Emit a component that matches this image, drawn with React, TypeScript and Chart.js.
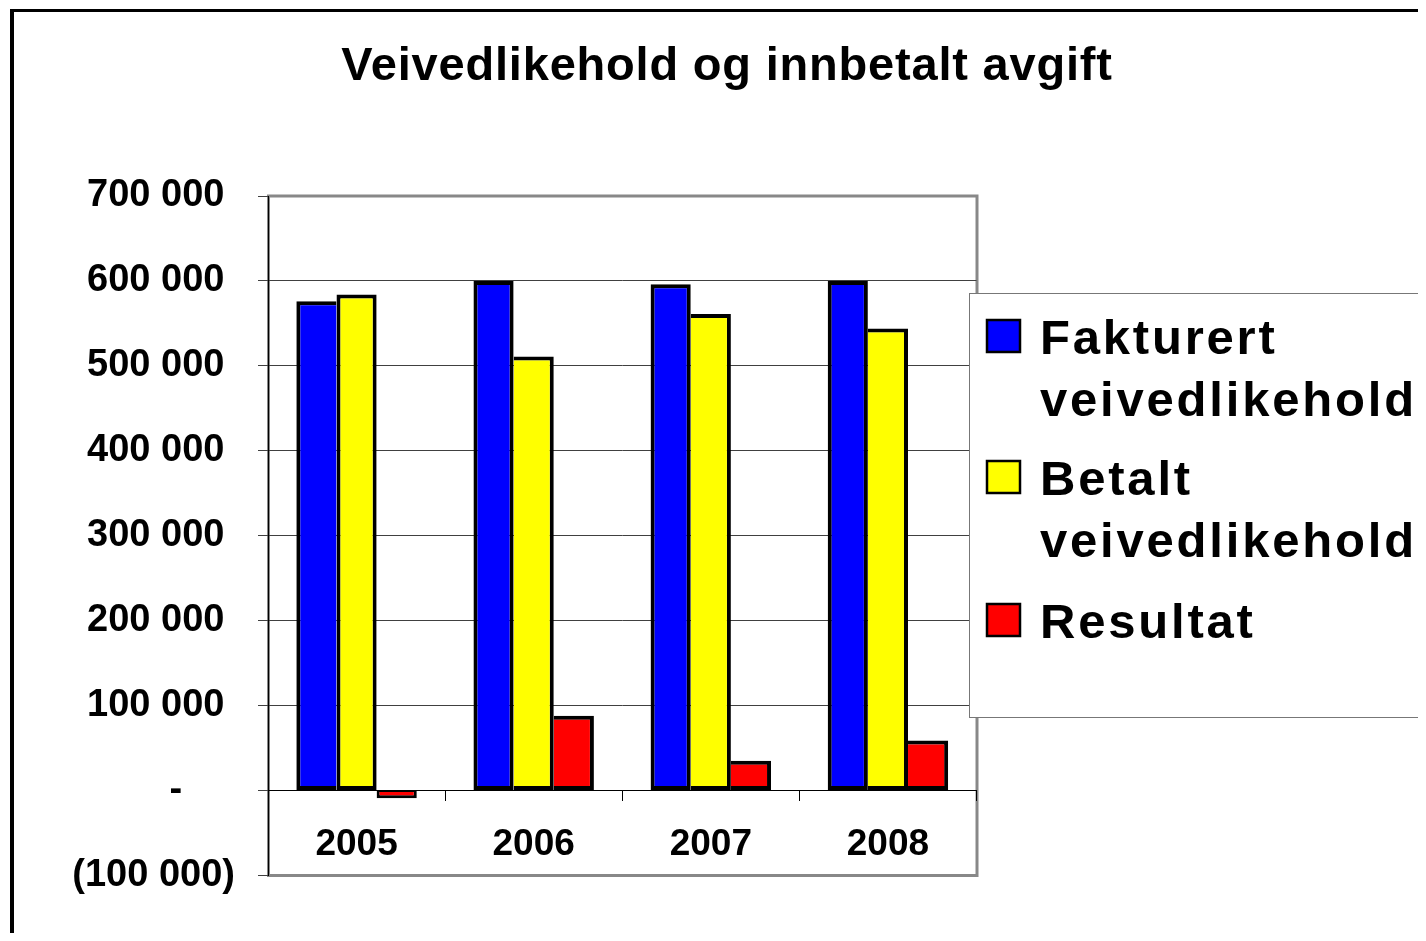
import React, { useEffect, useRef } from "react";
import { Chart, registerables } from "chart.js";

Chart.register(...registerables);

const title = "Veivedlikehold og innbetalt avgift";
const categories = ["2005", "2006", "2007", "2008"];
const seriesNames = [
  ["Fakturert", "veivedlikehold"],
  ["Betalt", "veivedlikehold"],
  ["Resultat"],
];
const fakturert = [576000, 600000, 596000, 600000];
const betalt = [584000, 511000, 561000, 544000];
const resultat = [-9000, 88000, 35000, 59000];
const seriesColors = ["#0000FF", "#FFFF00", "#FF0000"];
const yMin = -100000;
const yMax = 700000;
const yStep = 100000;

const FONT = '"Liberation Sans", Arial, sans-serif';
const W = 1440;
const H = 960;
const BW = 4;

function fmt(v: number): string {
  if (v === 0) return "-     ";
  const abs = Math.abs(v)
    .toFixed(0)
    .replace(/\B(?=(\d{3})+(?!\d))/g, " ");
  return v < 0 ? "(" + abs + ")" : abs + " ";
}

function sameSign(a: number, b: number) {
  return (a >= 0 && b >= 0) || (a < 0 && b < 0);
}

const decorPlugin = {
  id: "decor",
  beforeDraw(chart: any) {
    const ctx = chart.ctx;
    const a = chart.chartArea;
    ctx.save();
    // outer frame
    ctx.fillStyle = "#000";
    ctx.fillRect(2, 1, W, 3);
    ctx.fillRect(2, 1, 4, H);
    // plot area border
    ctx.strokeStyle = "#888888";
    ctx.lineWidth = 3;
    ctx.strokeRect(a.left + 0.5, a.top, a.right - a.left, a.bottom - a.top);
    ctx.restore();
  },
  afterDraw(chart: any) {
    const ctx = chart.ctx;
    ctx.save();
    // title
    ctx.fillStyle = "#000";
    ctx.font = "bold 47px " + FONT;
    (ctx as any).letterSpacing = "0.8px";
    ctx.textAlign = "center";
    ctx.textBaseline = "alphabetic";
    ctx.fillText(title, 719, 72);

    // legend
    (ctx as any).letterSpacing = "0px";
    ctx.fillStyle = "#fff";
    ctx.fillRect(961, 285, W, 424);
    ctx.strokeStyle = "#777";
    ctx.lineWidth = 1;
    ctx.strokeRect(961.5, 285.5, W, 424);
    const baselines = [346, 487, 630];
    ctx.font = "bold 49px " + FONT;
    (ctx as any).letterSpacing = "2.8px";
    ctx.textAlign = "left";
    chart.data.datasets.forEach((ds: any, i: number) => {
      const b = baselines[i];
      ctx.fillStyle = ds.backgroundColor;
      ctx.fillRect(978, b - 35, 35, 34);
      ctx.strokeStyle = "#000";
      ctx.lineWidth = 2.5;
      ctx.strokeRect(979, b - 34, 33, 32);
      ctx.fillStyle = "#000";
      const lines = seriesNames[i];
      lines.forEach((ln, k) => ctx.fillText(ln, 1032, b + k * 62));
    });
    ctx.restore();
  },
};

export default function App() {
  const ref = useRef<HTMLCanvasElement>(null);
  useEffect(() => {
    document.documentElement.style.overflow = "hidden";
    document.body.style.overflow = "hidden";
    if (!ref.current) return;
    const all = [fakturert, betalt, resultat];
    const bw = (c: any) => {
      const d = c.datasetIndex;
      const i = c.dataIndex;
      const v = all[d][i];
      let left = BW;
      let right = BW;
      if (d > 0) {
        const p = all[d - 1][i];
        if (sameSign(p, v) && Math.abs(p) >= Math.abs(v)) left = 0;
      }
      if (d < all.length - 1) {
        const n = all[d + 1][i];
        if (sameSign(n, v) && Math.abs(n) > Math.abs(v)) right = 0;
      }
      const top = v < 0 ? 1 : BW;
      const bottom = v < 0 ? 3 : BW;
      return { top, bottom, left: v < 0 ? 3 : left, right: v < 0 ? 3 : right };
    };
    const chart = new Chart(ref.current, {
      type: "bar",
      data: {
        labels: categories,
        datasets: all.map((data, i) => ({
          label: seriesNames[i].join(" "),
          data,
          backgroundColor: seriesColors[i],
          borderColor: "#000",
          borderWidth: bw as any,
          borderSkipped: false,
          categoryPercentage: 0.68,
          barPercentage: 1,
        })),
      },
      options: {
        responsive: false,
        animation: false,
        devicePixelRatio: 1,
        layout: { padding: { left: 0, top: 188, right: 471.5, bottom: 92.5 } },
        plugins: {
          legend: { display: false },
          title: { display: false },
          tooltip: { enabled: false },
        },
        scales: {
          x: {
            type: "category",
            position: { y: 0 } as any,
            offset: true,
            grid: {
              display: true,
              offset: true,
              drawOnChartArea: false,
              drawTicks: true,
              tickLength: 10,
              color: "#000",
              lineWidth: 1,
            },
            border: { display: true, color: "#000", width: 1 },
            ticks: {
              color: "#000",
              font: { family: FONT, size: 37, weight: "bold" },
              padding: 22,
              maxRotation: 0,
              autoSkip: false,
            },
          },
          y: {
            min: yMin,
            max: yMax,
            afterFit: (s: any) => {
              s.width = 260;
            },
            grid: {
              color: (c: any) => {
                const v = c.tick?.value;
                if (v === 0) return "#000";
                if (v === yMin || v === yMax) return "rgba(0,0,0,0)";
                return "#404040";
              },
              tickColor: "#404040",
              tickLength: 10,
              lineWidth: 1,
            },
            border: { display: true, color: "#000", width: 1 },
            ticks: {
              stepSize: yStep,
              color: "#000",
              font: { family: FONT, size: 38, weight: "bold" },
              padding: 23,
              callback: (v: any) => fmt(Number(v)),
            },
          },
        },
      },
      plugins: [decorPlugin],
    });
    return () => chart.destroy();
  }, []);
  return (
    <div style={{ width: W, height: 925, overflow: "hidden" }}>
      <canvas ref={ref} width={W} height={H} style={{ display: "block", width: W, height: H }} />
    </div>
  );
}
